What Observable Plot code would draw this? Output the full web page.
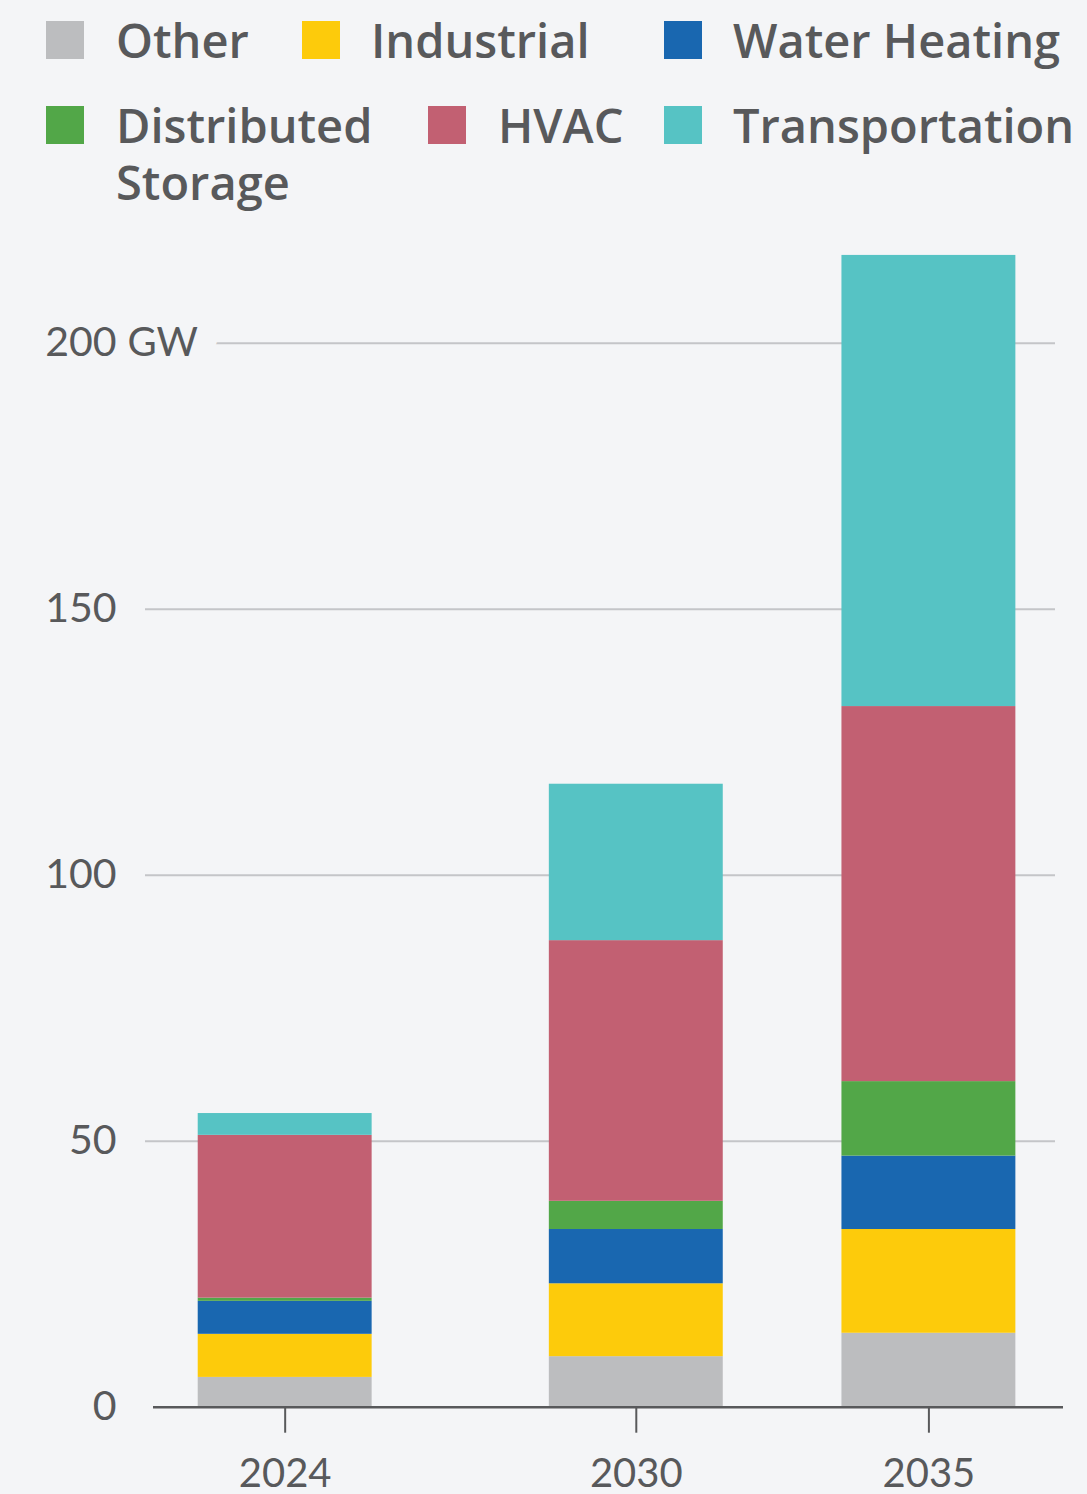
<!DOCTYPE html>
<html>
<head>
<meta charset="utf-8">
<script src="https://cdn.jsdelivr.net/npm/d3@7"></script>
<script src="https://cdn.jsdelivr.net/npm/@observablehq/plot@0.6"></script>
<style>
  html, body { margin: 0; padding: 0; background: #f4f5f7; }
  body { width: 1087px; height: 1494px; overflow: hidden; font-family: Lato, "Open Sans", sans-serif; }
  #legend { position: relative; height: 215px; }
  .sw { position: absolute; width: 38px; height: 38px; }
  .lab { position: absolute; font-family: "Open Sans", Lato, sans-serif; font-weight: 600; font-size: 47px; line-height: 57px; color: #58595b; white-space: nowrap; }
  .lab.wrap { white-space: normal; width: 280px; }
  #chart svg { display: block; }
</style>
</head>
<body>
<div id="legend"></div>
<div id="chart"></div>
<script>
// ---- data ----
const years = [2024, 2030, 2035];
const categories = ["Other", "Industrial", "Water Heating", "Distributed Storage", "HVAC", "Transportation"];
const colors = ["#bcbdbf", "#fdcb0b", "#1967b0", "#52a748", "#c26072", "#56c3c4"];
const other = [5.6, 9.5, 13.9];
const industrial = [8.1, 13.7, 19.5];
const waterHeating = [6.2, 10.2, 13.8];
const distributedStorage = [0.6, 5.3, 14.0];
const hvac = [30.6, 49.0, 70.5];
const transportation = [4.1, 29.4, 84.8];
const yTicks = [0, 50, 100, 150, 200];
const unitLabel = "GW";

const series = [other, industrial, waterHeating, distributedStorage, hvac, transportation];

// build stacked table
const rows = [];
years.forEach((year, i) => {
  let acc = 0;
  categories.forEach((cat, j) => {
    const v = series[j][i];
    rows.push({year, category: cat, value: v, y1: acc, y2: acc + v});
    acc += v;
  });
});

// ---- legend ----
const bg = "#f4f5f7";
const ink = "#58595b";
const legendLayout = [
  {sw: 46, tx: 116, row: 0},
  {sw: 302, tx: 371, row: 0},
  {sw: 664, tx: 733, row: 0},
  {sw: 46, tx: 116, row: 1, wrap: true},
  {sw: 428, tx: 498, row: 1},
  {sw: 664, tx: 733, row: 1}
];
const legend = document.getElementById("legend");
categories.forEach((cat, j) => {
  const L = legendLayout[j];
  const swTop = L.row === 0 ? 21 : 106;
  const txTop = L.row === 0 ? 12 : 97;
  const sw = document.createElement("div");
  sw.className = "sw";
  sw.style.left = L.sw + "px";
  sw.style.top = swTop + "px";
  sw.style.background = colors[j];
  legend.appendChild(sw);
  const lab = document.createElement("div");
  lab.className = "lab" + (L.wrap ? " wrap" : "");
  lab.style.left = L.tx + "px";
  lab.style.top = txTop + "px";
  lab.textContent = cat;
  legend.appendChild(lab);
});

// ---- chart ----
const half = 1.486;
const chart = Plot.plot({
  width: 1087,
  height: 1281,
  marginLeft: 153,
  marginRight: 24,
  marginTop: 21.3,
  marginBottom: 89.3,
  style: {background: "transparent", fontFamily: "Lato, 'Open Sans', sans-serif", fontSize: "40px", color: ink, overflow: "visible"},
  x: {domain: [2021.75, 2037.3], label: null},
  y: {domain: [0, 220], label: null},
  color: {domain: categories, range: colors},
  marks: [
    Plot.ruleY(yTicks.filter(d => d > 0), {stroke: "#c4c5c8", strokeWidth: 2, dx: -8}),
    Plot.text([200], {y: d => d, frameAnchor: "left", text: () => unitLabel, textAnchor: "start", dx: -26, fontSize: 40, fill: ink, stroke: bg, strokeWidth: 46}),
    Plot.rectY(rows, {x1: d => d.year - half, x2: d => d.year + half, y1: "y1", y2: "y2", fill: "category"}),
    Plot.ruleY([0], {stroke: ink, strokeWidth: 2.5}),
    Plot.axisY({ticks: yTicks, tickSize: 0, tickPadding: 37, fontSize: 41, fill: ink, label: null}),
    Plot.axisX({ticks: years, tickSize: 26, tickPadding: 25, strokeWidth: 2, stroke: ink, fill: ink, fontSize: 40, tickFormat: d => String(d), label: null})
  ]
});
document.getElementById("chart").appendChild(chart);
</script>
</body>
</html>
